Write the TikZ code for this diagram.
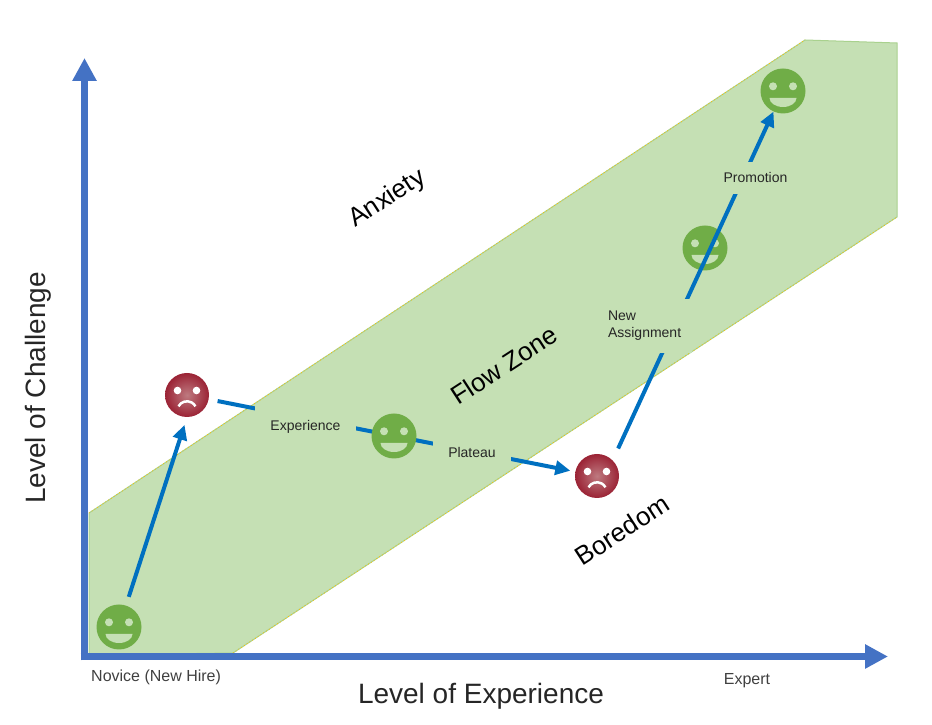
\documentclass[tikz,border=0pt]{standalone}
\usepackage{fontspec}
\setmainfont{Liberation Sans}
\usetikzlibrary{arrows.meta}
\definecolor{axisblue}{HTML}{4472C4}
\definecolor{stepblue}{HTML}{0070C0}
\definecolor{bandgreen}{HTML}{C5E0B4}
\definecolor{bandedge}{HTML}{A9D18E}
\definecolor{bandyellow}{HTML}{FFC000}
\definecolor{facegreen}{HTML}{70AD47}
\definecolor{sadouter}{HTML}{9B2335}
\definecolor{sadinner}{HTML}{BE7A80}
\definecolor{labelgray}{HTML}{262626}
\definecolor{tickgray}{HTML}{404040}
\pgfdeclarelayer{bottom}
\pgfdeclarelayer{background}
\pgfsetlayers{bottom,background,main}
\begin{document}
\begin{tikzpicture}[x=1pt,y=1pt,
  happy/.style={circle, fill=facegreen, minimum size=45pt, inner sep=0pt,
    path picture={\fill[bandgreen, shift={(path picture bounding box.center)}]
      (-10,4.7) circle (4) (10,4.7) circle (4)
      (-13.5,-7) -- (13.5,-7) arc (0:-180:13.5 and 9) -- cycle;}},
  sad/.style={circle, inner color=sadinner, outer color=sadouter, minimum size=44pt, inner sep=0pt,
    path picture={\begin{scope}[shift={(path picture bounding box.center)}]
      \fill[white] (-9.5,4.5) circle (3.8) (9.5,4.5) circle (3.8);
      \draw[white, line width=2.5pt] (-8.5,-11.3) arc (151:29:9.7);
      \end{scope}}},
  axis/.style={draw=axisblue, line width=7.5pt, -{Triangle[length=23pt,width=23pt]}},
  steparrow/.style={draw=stepblue, line width=4pt, -{Triangle[length=15pt,width=14pt]}},
  steplabel/.style={fill=bandgreen, text=labelgray, font=\fontsize{14}{17}\selectfont},
  zonelabel/.style={font=\fontsize{26}{31}\selectfont, rotate=33},
  axistitle/.style={text=labelgray, font=\fontsize{28}{34}\selectfont, inner sep=0pt},
  axislabel/.style={text=tickgray, font=\fontsize{16}{19}\selectfont, inner sep=0pt}]
\useasboundingbox (0,0) rectangle (932,725);
% flow band
\begin{pgfonlayer}{bottom}
\path[fill=bandgreen, draw=bandedge, line width=1pt] (805,685) -- (897,682) -- (897,508) -- (233,72) -- (89,70) -- (89,212) -- cycle;
\path[draw=bandyellow, line width=0.8pt, dash pattern=on 0.8pt off 2.5pt] (89,212) -- (805,685) (233,72) -- (897,508);
\end{pgfonlayer}
% axes
\coordinate (o) at (84.5,64.5);
\coordinate (ytop) at (84.5,667);
\coordinate (xl) at (80.5,68.5);
\coordinate (xr) at (888,68.5);
\path[axis] (o) -- (ytop);
\path[axis] (xl) -- (xr);
% faces
\node[happy] (h1) at (119,98) {};
\node[sad] (s1) at (187,330) {};
\node[happy] (h2) at (394,289) {};
\node[sad] (s2) at (597,249) {};
\node[happy] (h3) at (705,477) {};
\node[happy] (h4) at (783,634) {};
% steps
\path[steparrow, shorten <=9pt, shorten >=8pt] (h1) -- (s1.south);
\begin{pgfonlayer}{background}
\path[steparrow, shorten <=9pt, shorten >=5pt] (s1) -- (s2);
\end{pgfonlayer}
\path[steparrow, shorten <=13pt] (s2.north east) -- (h4);
\node[steplabel, inner xsep=15pt, inner ysep=16pt, anchor=base] (exp) at (305.5,294) {Experience};
\node[steplabel, inner xsep=15pt, inner ysep=9pt, anchor=base] (plat) at (472,267) {Plateau};
\node[steplabel, inner xsep=11pt, inner ysep=12pt, align=left] (newas) at (644.6,399) {New\\Assignment};
\node[steplabel, inner xsep=4pt, inner ysep=10.5pt, anchor=base] (promo) at (755.5,542) {Promotion};
% zones
\node[zonelabel] (anx) at (387.5,526) {Anxiety};
\node[zonelabel] (flow) at (504,360) {Flow Zone};
\node[zonelabel] (bored) at (622,195) {Boredom};
% axis labels
\node[axistitle, anchor=base] (xtitle) at (481,21) {Level of Experience};
\node[axistitle, anchor=base, rotate=90] (ytitle) at (46,337) {Level of Challenge};
\node[axislabel, anchor=base west] (novice) at (91,43) {Novice (New Hire)};
\node[axislabel, anchor=base] (expert) at (747,40) {Expert};
\end{tikzpicture}
\end{document}
